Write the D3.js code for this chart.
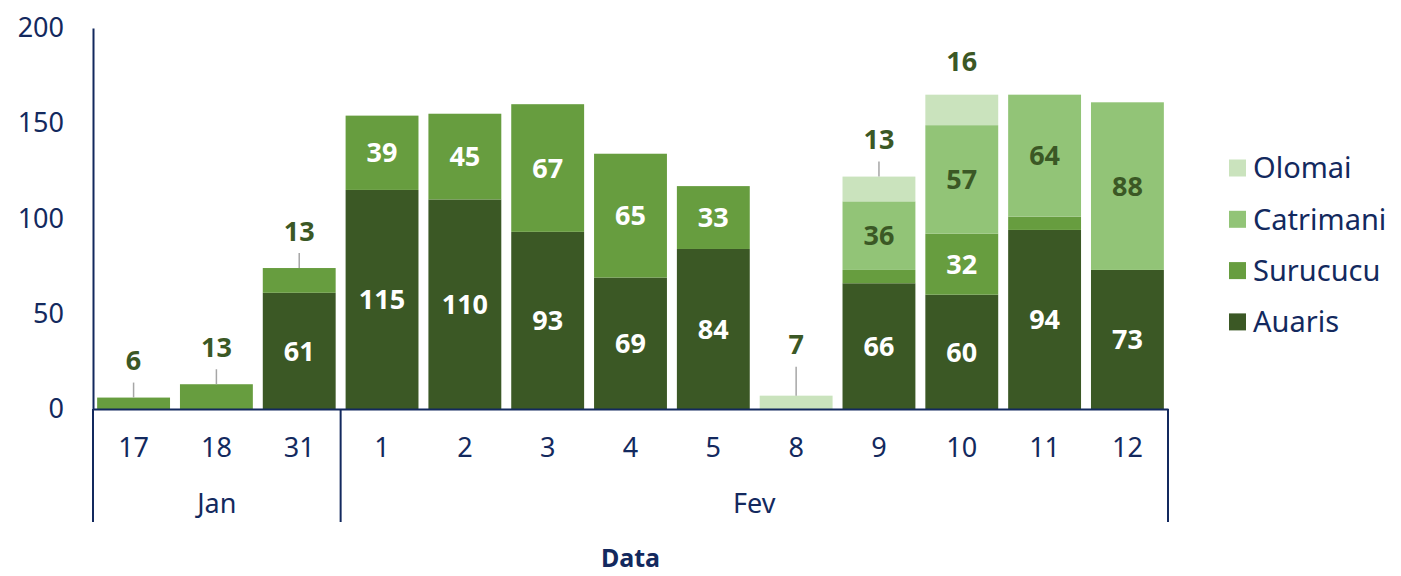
<!DOCTYPE html>
<html>
<head>
<meta charset="utf-8">
<script src="https://cdn.jsdelivr.net/npm/d3@7"></script>
<style>
  body { margin: 0; background: #fff; }
  svg { font-family: "Noto Sans", sans-serif; }
</style>
</head>
<body>
<div id="chart"></div>
<script>
// data
var days = ["17", "18", "31", "1", "2", "3", "4", "5", "8", "9", "10", "11", "12"];
var months = ["Jan", "Jan", "Jan", "Fev", "Fev", "Fev", "Fev", "Fev", "Fev", "Fev", "Fev", "Fev", "Fev"];
var seriesNames = ["Auaris", "Surucucu", "Catrimani", "Olomai"];
var auaris = [0, 0, 61, 115, 110, 93, 69, 84, 0, 66, 60, 94, 73];
var surucucu = [6, 13, 13, 39, 45, 67, 65, 33, 0, 7, 32, 7, 0];
var catrimani = [0, 0, 0, 0, 0, 0, 0, 0, 0, 36, 57, 64, 88];
var olomai = [0, 0, 0, 0, 0, 0, 0, 0, 7, 13, 16, 0, 0];
var yTicks = [0, 50, 100, 150, 200];

var colors = { Auaris: "#3b5825", Surucucu: "#679d3f", Catrimani: "#92c477", Olomai: "#cae3bd" };
var navy = "#13295e";
var labelGreen = "#3b5825";

// set the dimensions
var width = 1401, height = 576;
var plotLeft = 93, plotRight = 1168, plotTop = 28, plotBottom = 409;

var svg = d3.select("#chart").append("svg")
    .attr("width", width)
    .attr("height", height);

var keys = days.map(function (d, i) { return months[i] + "-" + d; });

var x = d3.scaleBand().domain(keys).range([plotLeft, plotRight])
    .paddingInner(0.12).paddingOuter(0.05);
var y = d3.scaleLinear().domain([0, 200]).range([plotBottom, plotTop]);

// build table for the stack
var table = keys.map(function (k, i) {
    return { key: k, day: days[i], Auaris: auaris[i], Surucucu: surucucu[i], Catrimani: catrimani[i], Olomai: olomai[i] };
});
var stacked = d3.stack().keys(seriesNames)(table);

// bars
svg.append("g").selectAll("g")
    .data(stacked)
    .enter().append("g")
    .attr("fill", function (s) { return colors[s.key]; })
    .selectAll("rect")
    .data(function (s) { return s; })
    .enter().append("rect")
    .attr("x", function (d) { return x(d.data.key); })
    .attr("width", x.bandwidth())
    .attr("y", function (d) { return y(d[1]); })
    .attr("height", function (d) { return y(d[0]) - y(d[1]); });

// labels
var callLift = { "8": 14, "10": -4 };
var noLeader = ["10"];
table.forEach(function (row, i) {
    var topName = null;
    seriesNames.forEach(function (n) { if (row[n] > 0) topName = n; });
    var cx = x(row.key) + x.bandwidth() / 2;
    stacked.forEach(function (s) {
        var n = s.key, v = row[n];
        if (!v) return;
        var seg = s[i];
        if (n === topName && v < 20) {
            var t = y(seg[1]);
            var lift = 37 + (callLift[row.day] || 0);
            if (noLeader.indexOf(row.day) < 0) {
                svg.append("line")
                    .attr("x1", cx).attr("x2", cx)
                    .attr("y1", t).attr("y2", t - lift + 22)
                    .attr("stroke", "#a6a6a6").attr("stroke-width", 1.5);
            }
            svg.append("text")
                .attr("x", cx).attr("y", t - lift)
                .attr("dy", "0.36em")
                .attr("text-anchor", "middle")
                .attr("font-size", 27).attr("font-weight", "bold")
                .attr("fill", labelGreen)
                .text(v);
        } else if (v >= 10) {
            svg.append("text")
                .attr("x", cx).attr("y", (y(seg[0]) + y(seg[1])) / 2)
                .attr("dy", "0.36em")
                .attr("text-anchor", "middle")
                .attr("font-size", 27).attr("font-weight", "bold")
                .attr("fill", n === "Catrimani" ? labelGreen : "#fff")
                .text(v);
        }
    });
});

// y axis
var yAxis = svg.append("g")
    .attr("transform", "translate(" + plotLeft + ",0)")
    .call(d3.axisLeft(y).tickValues(yTicks).tickSize(0).tickPadding(29));
yAxis.select(".domain").attr("stroke", navy).attr("stroke-width", 2);
yAxis.selectAll("text").attr("font-size", 27).attr("fill", navy)
    .attr("font-family", "Noto Sans, sans-serif");

// x axis (days)
var xAxis = svg.append("g")
    .attr("transform", "translate(0," + plotBottom + ")")
    .call(d3.axisBottom(x).tickSize(0).tickPadding(29).tickFormat(function (k, i) { return days[i]; }));
xAxis.select(".domain").attr("stroke", navy).attr("stroke-width", 2);
xAxis.selectAll("text").attr("font-size", 27).attr("fill", navy)
    .attr("font-family", "Noto Sans, sans-serif");

// month groups
var groups = d3.groups(keys, function (k) { return k.split("-")[0]; });
var edges = [plotLeft];
groups.forEach(function (g) {
    var first = g[1][0], last = g[1][g[1].length - 1];
    var x0 = x(first) - x.step() * x.paddingInner() / 2;
    var x1 = x(last) + x.bandwidth() + x.step() * x.paddingInner() / 2;
    if (first === keys[0]) x0 = plotLeft;
    if (last === keys[keys.length - 1]) x1 = plotRight;
    edges.push(x1);
    svg.append("text")
        .attr("x", (x0 + x1) / 2).attr("y", 503)
        .attr("dy", "0.36em")
        .attr("text-anchor", "middle")
        .attr("font-size", 27).attr("fill", navy)
        .text(g[0]);
});
svg.selectAll(".divider")
    .data(edges)
    .enter().append("line")
    .attr("class", "divider")
    .attr("x1", function (d) { return d; }).attr("x2", function (d) { return d; })
    .attr("y1", plotBottom).attr("y2", 522)
    .attr("stroke", navy).attr("stroke-width", 2);

// axis title
svg.append("text")
    .attr("x", (plotLeft + plotRight) / 2).attr("y", 558)
    .attr("dy", "0.36em")
    .attr("text-anchor", "middle")
    .attr("font-size", 25).attr("font-weight", "bold")
    .attr("fill", navy)
    .text("Data");

// legend
var legend = svg.append("g")
    .selectAll("g")
    .data(seriesNames.slice().reverse())
    .enter().append("g")
    .attr("transform", function (d, i) { return "translate(1229," + (168 + i * 51.3) + ")"; });

legend.append("rect")
    .attr("y", -8.5)
    .attr("width", 17).attr("height", 17)
    .attr("fill", function (d) { return colors[d]; });

legend.append("text")
    .attr("x", 24)
    .attr("dy", "0.36em")
    .attr("font-size", 29).attr("fill", navy)
    .text(function (d) { return d; });
</script>
</body>
</html>
